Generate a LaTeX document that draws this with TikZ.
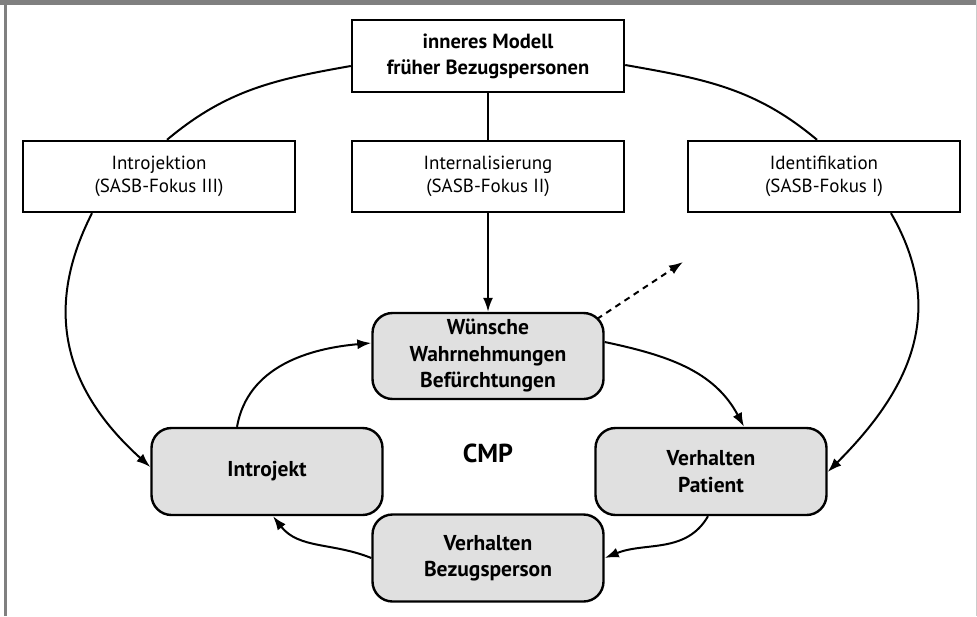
\documentclass[tikz,border=0pt]{standalone}
\usepackage{fontspec}
\setmainfont{PT Sans}
\usetikzlibrary{arrows.meta}
\definecolor{boxgray}{HTML}{E0E0E0}
\definecolor{framegray}{HTML}{808080}
\begin{document}
\begin{tikzpicture}[x=1pt,y=-1pt,
  plainbox/.style={draw,line width=2.4pt,minimum width=272pt,minimum height=71pt,align=center,font=\fontsize{19}{23}\selectfont,inner sep=0pt},
  cmpbox/.style={draw,line width=2.4pt,fill=boxgray,rounded corners=20pt,minimum width=231pt,minimum height=87pt,align=center,font=\fontsize{21.5}{26.5}\selectfont\bfseries,inner sep=0pt},
  conn/.style={line width=2pt,-{Latex[length=14pt,width=10pt]}},
  plain/.style={line width=2pt}]
\useasboundingbox (0,0) rectangle (977,616);
\fill[white] (0,0) rectangle (977,616);
\fill[framegray] (0,0) rectangle (977,5);
\fill[framegray] (4,0) rectangle (7,616);
\fill[black!20] (975.5,0) rectangle (977,616);

\node[plainbox,font=\fontsize{20.5}{26}\selectfont\bfseries,minimum height=72pt] (top) at (488,56) {inneres Modell\\früher Bezugspersonen};
\node[plainbox] (intro) at (159,176.5) {Introjektion\\(SASB-Fokus III)};
\node[plainbox] (inter) at (488,176.5) {Internalisierung\\(SASB-Fokus II)};
\node[plainbox] (ident) at (824,176.5) {Identifikation\\(SASB-Fokus I)};

\node[cmpbox,minimum height=86pt] (wue) at (488,356) {Wünsche\\Wahrnehmungen\\Befürchtungen};
\node[cmpbox] (ij) at (267,471.5) {Introjekt};
\node[cmpbox] (vp) at (711,471.5) {Verhalten\\Patient};
\node[cmpbox] (vb) at (488,558) {Verhalten\\Bezugsperson};
\node[font=\fontsize{26}{30}\selectfont\bfseries] (cmp) at (488,453) {CMP};

\coordinate (dashstart) at (597,319);
\coordinate (dashend) at (683,262);

\draw[plain] ([yshift=-10pt]top.west) to[out=190,in=40] ([xshift=8pt]intro.north);
\draw[plain] ([yshift=-9pt]top.east) to[out=-10,in=140] ([xshift=-7pt]ident.north);
\draw[plain] (top.south) -- (inter.north);
\draw[conn] (inter.south) -- (wue.north);
\draw[conn] ([xshift=-67pt]intro.south) to[out=-117,in=138,looseness=1.1] ([yshift=4.5pt]ij.west);
\draw[conn] ([xshift=67pt]ident.south) to[out=-60,in=45,looseness=1.1] ([yshift=-0.5pt]vp.east);
\draw[conn] ([xshift=-30pt]ij.north) to[out=80,in=185] ([yshift=13pt]wue.west);
\draw[conn] ([yshift=14pt]wue.east) to[out=-12,in=118] ([xshift=33pt]vp.north);
\draw[conn] ([xshift=-3pt]vp.south) to[out=-120,in=22] (vb.east);
\draw[conn] (vb.west) to[out=158,in=-52] ([xshift=6pt]ij.south);
\draw[line width=2pt,dash pattern=on 6pt off 5pt,-{Latex[length=14pt,width=10pt]}] (dashstart) -- (dashend);
\end{tikzpicture}
\end{document}
